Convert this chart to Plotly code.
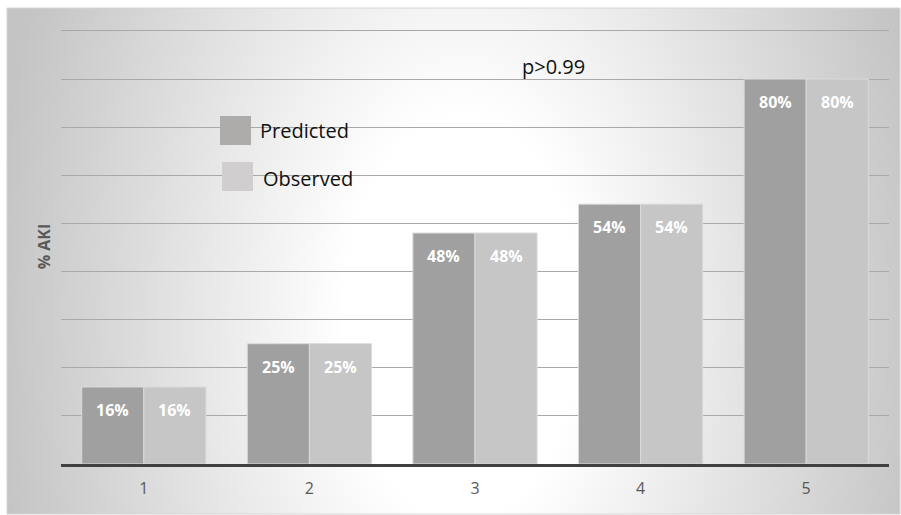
import base64
import plotly.graph_objects as go

# Risk groups and AKI rates (%)
groups = ["1", "2", "3", "4", "5"]
predicted = [16, 25, 48, 54, 80]
observed = [16, 25, 48, 54, 80]
series_names = ["Predicted", "Observed"]
p_text = "p>0.99"

W, H = 901, 515
# plot area in pixels (the top gridline sits a couple of pixels below the plot top)
L, R, T, B = 61, 889, 29, 464
Y_MAX = 90.4


def px(x):
    return (x - L) / (R - L)


def py(y):
    return (B - y) / (B - T)


# chart box with a soft radial fill
box_x0, box_y0, box_x1, box_y1 = 7, 8, 900, 514
bw, bh = box_x1 - box_x0, box_y1 - box_y0
svg = f"""<svg xmlns='http://www.w3.org/2000/svg' width='{bw}' height='{bh}' viewBox='0 0 {bw} {bh}' preserveAspectRatio='none'>
<defs><radialGradient id='g' gradientUnits='userSpaceOnUse' cx='455' cy='310' r='470'
 gradientTransform='translate(455 310) scale(1 1.7) translate(-455 -310)'>
<stop offset='0' stop-color='#ffffff'/><stop offset='0.25' stop-color='#ffffff'/>
<stop offset='1' stop-color='#c4c4c4'/></radialGradient></defs>
<rect x='0' y='0' width='{bw}' height='{bh}' fill='url(#g)'/></svg>"""
bg_src = "data:image/svg+xml;base64," + base64.b64encode(svg.encode()).decode()

pred_color = "#a0a0a0"
obs_color = "#c6c6c6"
font_family = "Open Sans"

fig = go.Figure()
fig.add_trace(go.Bar(x=groups, y=predicted, name=series_names[0],
                     marker=dict(color=pred_color, line=dict(color="#dadada", width=1))))
fig.add_trace(go.Bar(x=groups, y=observed, name=series_names[1],
                     marker=dict(color=obs_color, line=dict(color="#dadada", width=1))))

annotations = []
# value labels inside the top of each bar
half = 0.1875
for i, (pv, ov) in enumerate(zip(predicted, observed)):
    for xv, v in ((i - half, pv), (i + half, ov)):
        annotations.append(dict(x=xv, y=v, xref="x", yref="y", text=f"{v}%",
                                showarrow=False, yshift=-23, yanchor="middle",
                                font=dict(family=font_family, size=16, color="white", weight="bold")))

annotations.append(dict(x=px(553), y=py(66), xref="paper", yref="paper", text=p_text,
                        xanchor="center", yanchor="middle", showarrow=False,
                        font=dict(family=font_family, size=20, color="#111111")))

# legend swatches and labels
shapes = [
    dict(type="rect", xref="paper", yref="paper", x0=px(box_x0), x1=px(box_x1),
         y0=py(box_y1), y1=py(box_y0), line=dict(color="#d4d4d4", width=1), layer="above"),
    dict(type="rect", xref="paper", yref="paper", x0=px(220), x1=px(251), y0=py(145), y1=py(116),
         fillcolor="#aeabab", line=dict(width=0)),
    dict(type="rect", xref="paper", yref="paper", x0=px(222), x1=px(253), y0=py(191), y1=py(162),
         fillcolor="#d0cece", line=dict(width=0)),
]
annotations.append(dict(x=px(258), y=py(130), xref="paper", yref="paper", text=series_names[0],
                        xanchor="left", yanchor="middle", showarrow=False,
                        font=dict(family=font_family, size=20, color="#111111")))
annotations.append(dict(x=px(261), y=py(178), xref="paper", yref="paper", text=series_names[1],
                        xanchor="left", yanchor="middle", showarrow=False,
                        font=dict(family=font_family, size=20, color="#111111")))

fig.update_layout(
    width=W, height=H,
    margin=dict(l=L, r=W - R, t=T, b=H - B, pad=0),
    paper_bgcolor="white", plot_bgcolor="rgba(0,0,0,0)",
    barmode="group", bargap=0.25, bargroupgap=0,
    showlegend=False,
    annotations=annotations, shapes=shapes,
    images=[dict(source=bg_src, xref="paper", yref="paper", x=px(box_x0), y=py(box_y0),
                 sizex=px(box_x1) - px(box_x0), sizey=py(box_y0) - py(box_y1),
                 xanchor="left", yanchor="top", sizing="stretch", layer="below")],
    xaxis=dict(showline=True, linecolor="#404040", linewidth=3, showgrid=False,
               ticks="", ticklabelstandoff=8,
               tickfont=dict(family=font_family, size=16, color="#595959")),
    yaxis=dict(range=[0, Y_MAX], tickvals=list(range(10, 100, 10)), showgrid=True,
               gridcolor="#a9a9a9", gridwidth=1.2,
               zeroline=False, showticklabels=False, ticks="",
               title=dict(text="% AKI", standoff=5,
                          font=dict(family=font_family, size=16, color="#595959", weight="bold"))),
)

fig.write_html("out.html")
